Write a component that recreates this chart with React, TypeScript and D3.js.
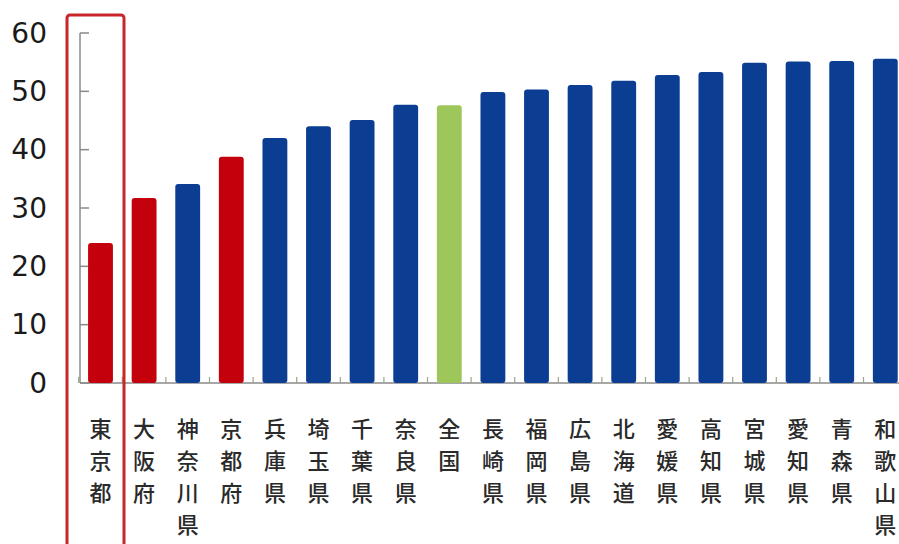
import React from "react";
import * as d3 from "d3";

const categories: string[] = [
  "東京都", "大阪府", "神奈川県", "京都府", "兵庫県", "埼玉県", "千葉県", "奈良県", "全国",
  "長崎県", "福岡県", "広島県", "北海道", "愛媛県", "高知県", "宮城県", "愛知県", "青森県", "和歌山県",
];
const values: number[] = [
  24.0, 31.7, 34.1, 38.8, 42.0, 44.0, 45.1, 47.7, 47.6,
  49.9, 50.3, 51.1, 51.8, 52.8, 53.3, 54.9, 55.1, 55.2, 55.6,
];
// group: r = red highlight, g = national, b = others
const groups: string[] = [
  "r", "r", "b", "r", "b", "b", "b", "b", "g",
  "b", "b", "b", "b", "b", "b", "b", "b", "b", "b",
];
const yTicks: number[] = [0, 10, 20, 30, 40, 50, 60];

const W = 899;
const H = 544;
const colors: Record<string, string> = { r: "#c3000c", b: "#0b3e93", g: "#9dc75b" };

export default function App() {
  const x = d3
    .scaleBand<string>()
    .domain(categories)
    .range([78.7, 907.1])
    .paddingInner(0.43)
    .paddingOuter(0.215);
  const y = d3.scaleLinear().domain([0, 60]).range([383, 33]);
  const step = x.step();
  const axisX = 80;
  const bw = x.bandwidth();

  return (
    <div style={{ position: "absolute", left: 0, top: 0 }}>
      <svg width={W} height={H} style={{ display: "block", background: "#fff" }}>
        {/* y axis */}
        <line x1={axisX} x2={axisX} y1={y(60)} y2={y(0)} stroke="#8a8a8a" strokeWidth={1.5} />
        {yTicks.map((t) => (
          <g key={t}>
            <line x1={axisX} x2={axisX + 9} y1={y(t)} y2={y(t)} stroke="#8a8a8a" strokeWidth={1.5} />
            <text
              x={47}
              y={y(t)}
              textAnchor="end"
              dominantBaseline="central"
              fontFamily="DejaVu Sans, sans-serif"
              fontSize={28}
              fill="#1a1a1a"
            >
              {t}
            </text>
          </g>
        ))}
        {/* x baseline */}
        <line x1={axisX} x2={W} y1={y(0)} y2={y(0)} stroke="#8a8a8a" strokeWidth={1.5} />
        {categories.map((c) => {
          const bx = (x(c) as number) - (step - bw) / 2;
          return (
            <line key={"t" + c} x1={bx} x2={bx} y1={y(0)} y2={y(0) - 6} stroke="#9aa58a" strokeWidth={1.2} />
          );
        })}
        {/* bars */}
        {categories.map((c, i) => (
          <rect
            key={c}
            x={x(c)}
            y={y(values[i])}
            width={bw}
            height={y(0) - y(values[i])}
            rx={3}
            fill={colors[groups[i]]}
          />
        ))}
        {/* labels */}
        {categories.map((c) => (
          <text
            key={"l" + c}
            textAnchor="middle"
            fontFamily="Noto Sans CJK JP, sans-serif"
            fontSize={22}
            fontWeight={500}
            fill="#2a2a2a"
          >
            {Array.from(c).map((ch, j) => (
              <tspan key={j} x={(x(c) as number) + bw / 2} y={437 + j * 32}>
                {ch}
              </tspan>
            ))}
          </text>
        ))}
        {/* highlight box */}
        <rect x={67} y={15} width={57} height={540} rx={3} fill="none" stroke="#c8262b" strokeWidth={3} />
      </svg>
    </div>
  );
}
